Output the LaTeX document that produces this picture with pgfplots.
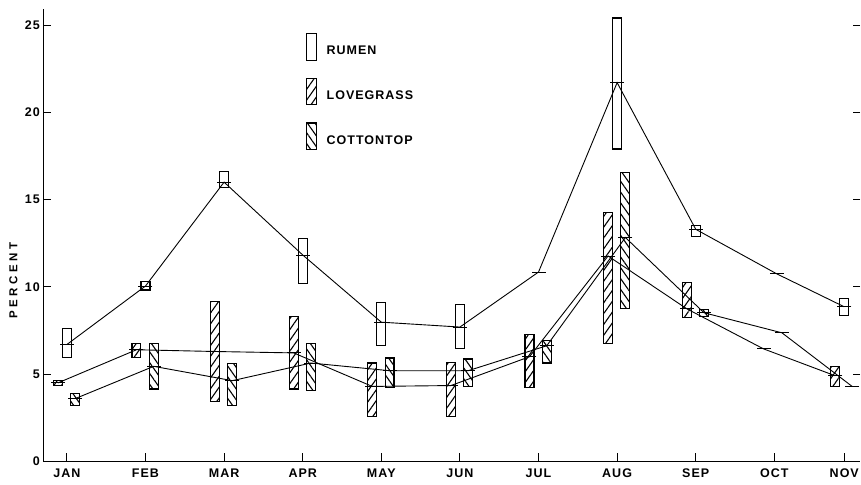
\documentclass[border=0pt]{standalone}
\usepackage{fontspec}
\setmainfont{Liberation Sans}
\newfontfamily\lettering{Liberation Sans}[LetterSpace=8]
\newfontfamily\wideletter{Liberation Sans}[LetterSpace=30]
\usepackage{pgfplots}
\pgfplotsset{compat=1.18}
\usetikzlibrary{patterns.meta}
\tikzset{
  rumenbar/.style={draw=black, line width=1.1pt, fill=white},
  lovebar/.style={draw=black, line width=1.1pt, pattern={Lines[angle=55,distance=6.2pt,line width=1.1pt]}},
  cottbar/.style={draw=black, line width=1.1pt, pattern={Lines[angle=-55,distance=6.2pt,line width=1.1pt]}},
  meanline/.style={black, line width=0.9pt, mark=-, mark size=7pt, mark options={line width=0.9pt}},
}
\newcommand{\lab}{\lettering\bfseries\fontsize{12.5}{14}\selectfont}
\newcommand{\ylab}{\wideletter\bfseries\fontsize{11.5}{13}\selectfont}
\begin{document}
\begin{tikzpicture}
\begin{axis}[
  scale only axis, width=816.7pt, height=452.2pt,
  xmin=0.70, xmax=11.09, ymin=0, ymax=25.9,
  axis x line=bottom, axis y line=left,
  axis line style={-},
  x axis line style={line width=1.9pt},
  y axis line style={line width=1.4pt},
  xtick={1,2,3,4,5,6,7,8,9,10,10.89},
  xticklabels={JAN,FEB,MAR,APR,MAY,JUN,JUL,AUG,SEP,OCT,NOV},
  ytick={0,5,10,15,20,25},
  tick align=inside, major tick length=8pt,
  tick style={black, line width=1pt},
  /pgf/number format/assume math mode=true,
  xticklabel style={font=\lab, yshift=-4pt},
  yticklabel style={font=\lab},
  ylabel={PERCENT},
  ylabel style={font=\ylab, at={(axis description cs:-0.0365,0.40)}, anchor=center, rotate=0},
  legend style={at={(axis description cs:0.3217,0.947)}, anchor=north west, draw=none, fill=none,
    inner sep=0pt, outer sep=0pt, row sep=17pt, column sep=10pt, font=\lab,
    nodes={inner sep=0pt}},
  legend cell align=left,
]
\addlegendimage{legend image code/.code={\draw[rumenbar] (0pt,-9pt) rectangle (9.5pt,17.5pt);}}
\addlegendentry{RUMEN}
\addlegendimage{legend image code/.code={\draw[lovebar] (0pt,-9pt) rectangle (9.5pt,17.5pt);}}
\addlegendentry{LOVEGRASS}
\addlegendimage{legend image code/.code={\draw[cottbar] (0pt,-9pt) rectangle (9.5pt,17.5pt);}}
\addlegendentry{COTTONTOP}

% ---- Rumen range bars
\addplot[rumenbar, forget plot] coordinates {(0.943,5.97) (1.057,5.97) (1.057,7.6) (0.943,7.6)} -- cycle;
\addplot[rumenbar, forget plot] coordinates {(1.943,9.82) (2.057,9.82) (2.057,10.3) (1.943,10.3)} -- cycle;
\addplot[rumenbar, forget plot] coordinates {(2.943,15.7) (3.057,15.7) (3.057,16.6) (2.943,16.6)} -- cycle;
\addplot[rumenbar, forget plot] coordinates {(3.943,10.2) (4.057,10.2) (4.057,12.75) (3.943,12.75)} -- cycle;
\addplot[rumenbar, forget plot] coordinates {(4.943,6.66) (5.057,6.66) (5.057,9.13) (4.943,9.13)} -- cycle;
\addplot[rumenbar, forget plot] coordinates {(5.943,6.47) (6.057,6.47) (6.057,9.0) (5.943,9.0)} -- cycle;
\addplot[rumenbar, forget plot] coordinates {(7.943,17.9) (8.057,17.9) (8.057,25.4) (7.943,25.4)} -- cycle;
\addplot[rumenbar, forget plot] coordinates {(8.943,12.9) (9.057,12.9) (9.057,13.5) (8.943,13.5)} -- cycle;
\addplot[rumenbar, forget plot] coordinates {(10.833,8.36) (10.947,8.36) (10.947,9.35) (10.833,9.35)} -- cycle;

% ---- Lovegrass range bars
\addplot[lovebar, forget plot] coordinates {(0.828,4.35) (0.942,4.35) (0.942,4.62) (0.828,4.62)} -- cycle;
\addplot[lovebar, forget plot] coordinates {(1.828,5.97) (1.942,5.97) (1.942,6.74) (1.828,6.74)} -- cycle;
\addplot[lovebar, forget plot] coordinates {(2.828,3.44) (2.942,3.44) (2.942,9.15) (2.828,9.15)} -- cycle;
\addplot[lovebar, forget plot] coordinates {(3.828,4.15) (3.942,4.15) (3.942,8.29) (3.828,8.29)} -- cycle;
\addplot[lovebar, forget plot] coordinates {(4.828,2.57) (4.942,2.57) (4.942,5.64) (4.828,5.64)} -- cycle;
\addplot[lovebar, forget plot] coordinates {(5.828,2.60) (5.942,2.60) (5.942,5.68) (5.828,5.68)} -- cycle;
\addplot[lovebar, forget plot] coordinates {(6.828,4.24) (6.942,4.24) (6.942,7.27) (6.828,7.27)} -- cycle;
\addplot[lovebar, forget plot] coordinates {(7.828,6.75) (7.942,6.75) (7.942,14.26) (7.828,14.26)} -- cycle;
\addplot[lovebar, forget plot] coordinates {(8.828,8.26) (8.942,8.26) (8.942,10.24) (8.828,10.24)} -- cycle;
\addplot[lovebar, forget plot] coordinates {(10.718,4.30) (10.832,4.30) (10.832,5.45) (10.718,5.45)} -- cycle;

% ---- Cottontop range bars
\addplot[cottbar, forget plot] coordinates {(1.048,3.20) (1.162,3.20) (1.162,3.90) (1.048,3.90)} -- cycle;
\addplot[cottbar, forget plot] coordinates {(2.048,4.15) (2.162,4.15) (2.162,6.74) (2.048,6.74)} -- cycle;
\addplot[cottbar, forget plot] coordinates {(3.048,3.19) (3.162,3.19) (3.162,5.60) (3.048,5.60)} -- cycle;
\addplot[cottbar, forget plot] coordinates {(4.048,4.07) (4.162,4.07) (4.162,6.75) (4.048,6.75)} -- cycle;
\addplot[cottbar, forget plot] coordinates {(5.048,4.26) (5.162,4.26) (5.162,5.93) (5.048,5.93)} -- cycle;
\addplot[cottbar, forget plot] coordinates {(6.048,4.30) (6.162,4.30) (6.162,5.87) (6.048,5.87)} -- cycle;
\addplot[cottbar, forget plot] coordinates {(7.048,5.64) (7.162,5.64) (7.162,6.94) (7.048,6.94)} -- cycle;
\addplot[cottbar, forget plot] coordinates {(8.048,8.75) (8.162,8.75) (8.162,16.56) (8.048,16.56)} -- cycle;
\addplot[cottbar, forget plot] coordinates {(9.048,8.29) (9.162,8.29) (9.162,8.70) (9.048,8.70)} -- cycle;

% ---- Mean lines
\addplot[meanline, forget plot] coordinates {(1,6.7) (2,10.05) (3,16.0) (4,11.83) (5,7.98) (6,7.7) (7,10.85) (8,21.7) (9,13.3) (10.03,10.75) (10.89,8.86)};
\addplot[meanline, forget plot] coordinates {(0.885,4.5) (1.885,6.4) (2.885,6.3) (3.885,6.22) (4.885,4.3) (5.885,4.35) (6.885,6.0) (7.885,11.77) (8.885,8.75) (9.863,6.45) (10.775,4.91)};
\addplot[meanline, forget plot] coordinates {(1.105,3.6) (2.105,5.45) (3.105,4.63) (4.105,5.64) (5.105,5.2) (6.105,5.2) (7.105,6.63) (8.105,12.83) (9.105,8.52) (10.097,7.37) (10.99,4.3)};
\end{axis}
% right-hand tick marks (no visible axis line)
\begin{axis}[
  scale only axis, width=816.7pt, height=452.2pt,
  xmin=0.70, xmax=11.09, ymin=0, ymax=25.9,
  axis x line=none, axis y line=right,
  y axis line style={draw=none},
  ytick={5,10,15,20,25}, yticklabels={},
  tick align=inside, major tick length=7pt,
  tick style={black, line width=1pt},
]
\end{axis}
\pgfresetboundingbox
\useasboundingbox ([xshift=-43.3pt,yshift=-22.5pt]current axis.south west) rectangle ([xshift=1pt,yshift=9.3pt]current axis.north east);
\end{tikzpicture}
\end{document}
